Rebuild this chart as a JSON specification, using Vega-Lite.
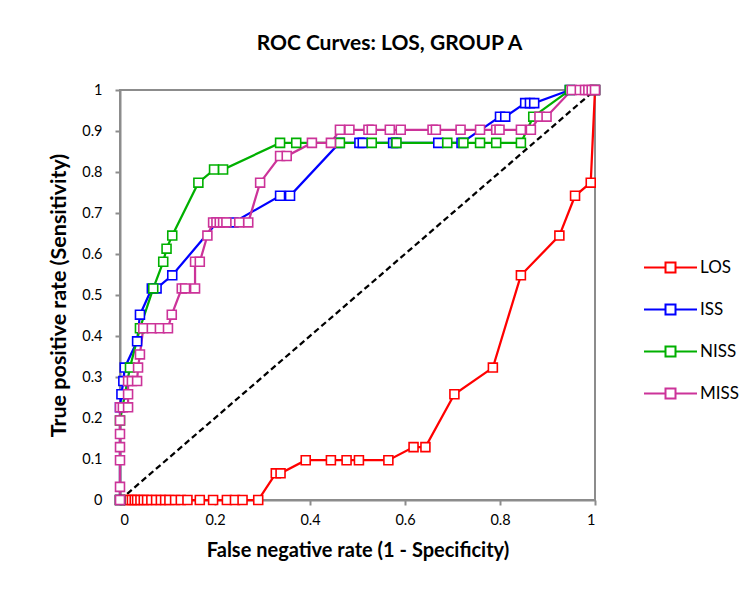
{
  "$schema": "https://vega.github.io/schema/vega-lite/v6.json",
  "width": 475,
  "height": 410,
  "autosize": "none",
  "padding": {"left": 120, "top": 90, "right": 158, "bottom": 99},
  "background": "white",
  "title": {"text": "ROC Curves: LOS, GROUP A", "anchor": "middle", "frame": "group", "dx": 32, "offset": 28, "font": "Lato", "fontSize": 21, "fontWeight": "bold", "color": "#000000"},
  "config": {
    "view": {"stroke": "#8c8c8c", "strokeWidth": 2},
    "axis": {"grid": false, "domainColor": "#8c8c8c", "domainWidth": 2, "tickColor": "#8c8c8c", "tickWidth": 2, "tickSize": 5, "labelFont": "Lato", "labelFontSize": 14.5, "labelColor": "#000000", "titleFont": "Lato", "titleFontSize": 20, "titleFontWeight": "bold", "titleColor": "#000000"}
  },
  "datasets": {
    "diag": [{"x": 0, "y": 0}, {"x": 1, "y": 1}],
    "roc": [
      {"s": "LOS", "x": 0, "y": 0}, {"s": "LOS", "x": 0.013, "y": 0}, {"s": "LOS", "x": 0.02, "y": 0}, {"s": "LOS", "x": 0.025, "y": 0}, {"s": "LOS", "x": 0.031, "y": 0}, {"s": "LOS", "x": 0.036, "y": 0}, {"s": "LOS", "x": 0.043, "y": 0}, {"s": "LOS", "x": 0.05, "y": 0}, {"s": "LOS", "x": 0.057, "y": 0}, {"s": "LOS", "x": 0.066, "y": 0}, {"s": "LOS", "x": 0.076, "y": 0}, {"s": "LOS", "x": 0.086, "y": 0}, {"s": "LOS", "x": 0.095, "y": 0}, {"s": "LOS", "x": 0.104, "y": 0}, {"s": "LOS", "x": 0.116, "y": 0}, {"s": "LOS", "x": 0.128, "y": 0}, {"s": "LOS", "x": 0.142, "y": 0}, {"s": "LOS", "x": 0.168, "y": 0}, {"s": "LOS", "x": 0.196, "y": 0}, {"s": "LOS", "x": 0.225, "y": 0}, {"s": "LOS", "x": 0.242, "y": 0}, {"s": "LOS", "x": 0.258, "y": 0}, {"s": "LOS", "x": 0.291, "y": 0}, {"s": "LOS", "x": 0.328, "y": 0.065}, {"s": "LOS", "x": 0.338, "y": 0.065}, {"s": "LOS", "x": 0.391, "y": 0.097}, {"s": "LOS", "x": 0.444, "y": 0.097}, {"s": "LOS", "x": 0.477, "y": 0.097}, {"s": "LOS", "x": 0.503, "y": 0.097}, {"s": "LOS", "x": 0.565, "y": 0.097}, {"s": "LOS", "x": 0.618, "y": 0.129}, {"s": "LOS", "x": 0.643, "y": 0.129}, {"s": "LOS", "x": 0.704, "y": 0.258}, {"s": "LOS", "x": 0.785, "y": 0.323}, {"s": "LOS", "x": 0.844, "y": 0.548}, {"s": "LOS", "x": 0.925, "y": 0.645}, {"s": "LOS", "x": 0.958, "y": 0.742}, {"s": "LOS", "x": 0.991, "y": 0.774}, {"s": "LOS", "x": 1, "y": 1},
      {"s": "ISS", "x": 0, "y": 0}, {"s": "ISS", "x": 0, "y": 0.226}, {"s": "ISS", "x": 0.003, "y": 0.258}, {"s": "ISS", "x": 0.007, "y": 0.29}, {"s": "ISS", "x": 0.01, "y": 0.323}, {"s": "ISS", "x": 0.036, "y": 0.387}, {"s": "ISS", "x": 0.042, "y": 0.452}, {"s": "ISS", "x": 0.067, "y": 0.516}, {"s": "ISS", "x": 0.077, "y": 0.516}, {"s": "ISS", "x": 0.11, "y": 0.548}, {"s": "ISS", "x": 0.204, "y": 0.677}, {"s": "ISS", "x": 0.239, "y": 0.677}, {"s": "ISS", "x": 0.337, "y": 0.742}, {"s": "ISS", "x": 0.358, "y": 0.742}, {"s": "ISS", "x": 0.462, "y": 0.871}, {"s": "ISS", "x": 0.504, "y": 0.871}, {"s": "ISS", "x": 0.511, "y": 0.871}, {"s": "ISS", "x": 0.575, "y": 0.871}, {"s": "ISS", "x": 0.581, "y": 0.871}, {"s": "ISS", "x": 0.67, "y": 0.871}, {"s": "ISS", "x": 0.719, "y": 0.871}, {"s": "ISS", "x": 0.8, "y": 0.935}, {"s": "ISS", "x": 0.811, "y": 0.935}, {"s": "ISS", "x": 0.853, "y": 0.968}, {"s": "ISS", "x": 0.863, "y": 0.968}, {"s": "ISS", "x": 0.872, "y": 0.968}, {"s": "ISS", "x": 0.947, "y": 1}, {"s": "ISS", "x": 1, "y": 1},
      {"s": "NISS", "x": 0, "y": 0}, {"s": "NISS", "x": 0, "y": 0.194}, {"s": "NISS", "x": 0.021, "y": 0.323}, {"s": "NISS", "x": 0.042, "y": 0.419}, {"s": "NISS", "x": 0.07, "y": 0.516}, {"s": "NISS", "x": 0.091, "y": 0.581}, {"s": "NISS", "x": 0.098, "y": 0.613}, {"s": "NISS", "x": 0.11, "y": 0.645}, {"s": "NISS", "x": 0.165, "y": 0.774}, {"s": "NISS", "x": 0.198, "y": 0.806}, {"s": "NISS", "x": 0.217, "y": 0.806}, {"s": "NISS", "x": 0.337, "y": 0.871}, {"s": "NISS", "x": 0.371, "y": 0.871}, {"s": "NISS", "x": 0.463, "y": 0.871}, {"s": "NISS", "x": 0.53, "y": 0.871}, {"s": "NISS", "x": 0.582, "y": 0.871}, {"s": "NISS", "x": 0.689, "y": 0.871}, {"s": "NISS", "x": 0.723, "y": 0.871}, {"s": "NISS", "x": 0.758, "y": 0.871}, {"s": "NISS", "x": 0.792, "y": 0.871}, {"s": "NISS", "x": 0.844, "y": 0.871}, {"s": "NISS", "x": 0.87, "y": 0.935}, {"s": "NISS", "x": 0.947, "y": 1}, {"s": "NISS", "x": 1, "y": 1},
      {"s": "MISS", "x": 0, "y": 0}, {"s": "MISS", "x": 0, "y": 0.032}, {"s": "MISS", "x": 0, "y": 0.097}, {"s": "MISS", "x": 0, "y": 0.129}, {"s": "MISS", "x": 0, "y": 0.161}, {"s": "MISS", "x": 0, "y": 0.194}, {"s": "MISS", "x": 0, "y": 0.226}, {"s": "MISS", "x": 0.006, "y": 0.226}, {"s": "MISS", "x": 0.017, "y": 0.226}, {"s": "MISS", "x": 0.017, "y": 0.258}, {"s": "MISS", "x": 0.017, "y": 0.29}, {"s": "MISS", "x": 0.025, "y": 0.29}, {"s": "MISS", "x": 0.036, "y": 0.29}, {"s": "MISS", "x": 0.038, "y": 0.323}, {"s": "MISS", "x": 0.042, "y": 0.355}, {"s": "MISS", "x": 0.049, "y": 0.419}, {"s": "MISS", "x": 0.067, "y": 0.419}, {"s": "MISS", "x": 0.084, "y": 0.419}, {"s": "MISS", "x": 0.101, "y": 0.419}, {"s": "MISS", "x": 0.109, "y": 0.452}, {"s": "MISS", "x": 0.13, "y": 0.516}, {"s": "MISS", "x": 0.137, "y": 0.516}, {"s": "MISS", "x": 0.158, "y": 0.516}, {"s": "MISS", "x": 0.158, "y": 0.581}, {"s": "MISS", "x": 0.168, "y": 0.581}, {"s": "MISS", "x": 0.184, "y": 0.645}, {"s": "MISS", "x": 0.196, "y": 0.677}, {"s": "MISS", "x": 0.203, "y": 0.677}, {"s": "MISS", "x": 0.21, "y": 0.677}, {"s": "MISS", "x": 0.217, "y": 0.677}, {"s": "MISS", "x": 0.224, "y": 0.677}, {"s": "MISS", "x": 0.251, "y": 0.677}, {"s": "MISS", "x": 0.27, "y": 0.677}, {"s": "MISS", "x": 0.295, "y": 0.774}, {"s": "MISS", "x": 0.337, "y": 0.839}, {"s": "MISS", "x": 0.351, "y": 0.839}, {"s": "MISS", "x": 0.404, "y": 0.871}, {"s": "MISS", "x": 0.444, "y": 0.871}, {"s": "MISS", "x": 0.463, "y": 0.903}, {"s": "MISS", "x": 0.483, "y": 0.903}, {"s": "MISS", "x": 0.523, "y": 0.903}, {"s": "MISS", "x": 0.53, "y": 0.903}, {"s": "MISS", "x": 0.568, "y": 0.903}, {"s": "MISS", "x": 0.591, "y": 0.903}, {"s": "MISS", "x": 0.658, "y": 0.903}, {"s": "MISS", "x": 0.665, "y": 0.903}, {"s": "MISS", "x": 0.717, "y": 0.903}, {"s": "MISS", "x": 0.758, "y": 0.903}, {"s": "MISS", "x": 0.792, "y": 0.903}, {"s": "MISS", "x": 0.799, "y": 0.903}, {"s": "MISS", "x": 0.844, "y": 0.903}, {"s": "MISS", "x": 0.865, "y": 0.903}, {"s": "MISS", "x": 0.883, "y": 0.935}, {"s": "MISS", "x": 0.898, "y": 0.935}, {"s": "MISS", "x": 0.951, "y": 1}, {"s": "MISS", "x": 0.968, "y": 1}, {"s": "MISS", "x": 0.979, "y": 1}, {"s": "MISS", "x": 0.986, "y": 1}, {"s": "MISS", "x": 0.993, "y": 1}, {"s": "MISS", "x": 1, "y": 1}
    ]
  },
  "encoding": {
    "x": {"field": "x", "type": "quantitative", "scale": {"domain": [0, 1], "nice": false}, "axis": {"values": [0, 0.2, 0.4, 0.6, 0.8, 1], "format": "~g", "labelPadding": 8, "title": "False negative rate (1 - Specificity)", "titlePadding": 14}},
    "y": {"field": "y", "type": "quantitative", "scale": {"domain": [0, 1], "nice": false}, "axis": {"values": [0, 0.1, 0.2, 0.3, 0.4, 0.5, 0.6, 0.7, 0.8, 0.9, 1], "format": "~g", "labelPadding": 13, "title": "True positive rate (Sensitivity)", "titleFontSize": 21.5, "titlePadding": 11}}
  },
  "layer": [
    {"data": {"name": "diag"}, "mark": {"type": "line", "color": "#000000", "strokeDash": [6, 3.5], "strokeWidth": 2.25}, "encoding": {}},
    {"data": {"name": "roc"}, "mark": {"type": "line", "strokeWidth": 2.25},
     "encoding": {
       "order": [{"field": "x", "type": "quantitative"}, {"field": "y", "type": "quantitative"}],
       "color": {"field": "s", "type": "nominal", "scale": {"domain": ["LOS", "ISS", "NISS", "MISS"], "range": ["#ff0000", "#0000ff", "#00b000", "#cc3399"]},
         "legend": {"orient": "none", "legendX": 542, "legendY": 169, "title": null, "padding": 0, "symbolType": "M-5.3,0H-1M1,0H5.3M-1,-1H1V1H-1Z", "symbolSize": 100, "symbolStrokeWidth": 2, "symbolFillColor": "white", "labelOffset": 21, "labelFont": "Lato", "labelFontSize": 17, "labelColor": "#000000", "rowPadding": 23}}
     }},
    {"data": {"name": "roc"}, "mark": {"type": "point", "shape": "square", "filled": false, "fill": "white", "opacity": 1, "size": 80, "strokeWidth": 1.6},
     "encoding": {"color": {"field": "s", "type": "nominal"}}}
  ]
}
